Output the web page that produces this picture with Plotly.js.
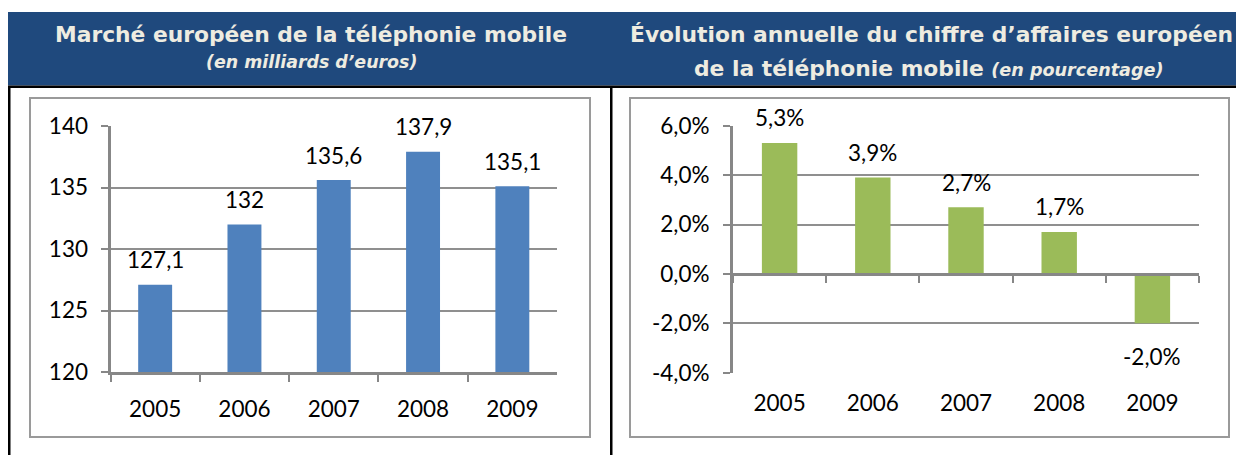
<!DOCTYPE html>
<html>
<head>
<meta charset="utf-8">
<script src="https://cdn.plot.ly/plotly-3.0.1.min.js"></script>
<style>html,body{margin:0;padding:0;background:#fff;}#chart{width:1236px;height:455px;}</style>
</head>
<body>
<div id="chart"></div>
<script>
// ---- data ----
const years = ['2005', '2006', '2007', '2008', '2009'];
const marketValues = [127.1, 132, 135.6, 137.9, 135.1];          // milliards d'euros
const growthValues = [5.3, 3.9, 2.7, 1.7, -2.0];                 // %
const leftTickVals = [120, 125, 130, 135, 140];
const rightTickVals = [-4, -2, 0, 2, 4, 6];
const rightTickText = ['-4,0%', '-2,0%', '0,0%', '2,0%', '4,0%', '6,0%'];
const leftTitle = 'Marché européen de la téléphonie mobile';
const leftSubtitle = '(en milliards d’euros)';
const rightTitle1 = 'Évolution annuelle du chiffre d’affaires européen';
const rightTitle2 = 'de la téléphonie mobile';
const rightSubtitle = '(en pourcentage)';

// ---- helpers ----
const W = 1236, H = 455;
const px = x => x / W;
const py = y => 1 - y / H;
const fmtNum = v => String(v).replace('.', ',');
const fmtPct = v => v.toFixed(1).replace('.', ',') + '%';

const gray = '#878787';
const gridGray = '#8f8f8f';
const tickFont = {family: 'Lato, sans-serif', size: 22.5, color: '#000'};

const yLeftDom = [py(372), py(126)];
const yRightDom = [py(372.7), py(125.7)];
const rRange = [-4, 6];
const zeroPos = yRightDom[0] + (0 - rRange[0]) / (rRange[1] - rRange[0]) * (yRightDom[1] - yRightDom[0]);

const traces = [
  {type: 'bar', x: years, y: marketValues, xaxis: 'x', yaxis: 'y',
   marker: {color: '#4F81BD'}, hoverinfo: 'x+y'},
  {type: 'bar', x: years, y: growthValues, xaxis: 'x2', yaxis: 'y2',
   marker: {color: '#9BBB59'}, hoverinfo: 'x+y'},
  {type: 'scatter', mode: 'markers', x: years, y: growthValues, xaxis: 'x3', yaxis: 'y2',
   marker: {opacity: 0, size: 1}, hoverinfo: 'skip'}
];

const annotations = [];
years.forEach((yr, i) => {
  // category index i = position of years[i] on the category axis
  annotations.push({xref: 'x', yref: 'y', x: i, y: marketValues[i], text: fmtNum(marketValues[i]),
    showarrow: false, xanchor: 'center', yanchor: 'middle', yshift: 25, font: tickFont});
  const g = growthValues[i];
  annotations.push({xref: 'x2', yref: 'y2', x: i, y: g, text: fmtPct(g),
    showarrow: false, xanchor: 'center', yanchor: 'middle', yshift: g >= 0 ? 25 : -33, font: tickFont});
});
const hdrFont = {family: 'DejaVu Sans, sans-serif', size: 21.8, color: '#EEECE1'};
const hdr = (x, y, text, size) => ({xref: 'paper', yref: 'paper', x: px(x), y: py(y), text: text,
  showarrow: false, xanchor: 'center', yanchor: 'middle', font: Object.assign({}, hdrFont, {size: size})});
annotations.push(
  hdr(311, 35, '<b>' + leftTitle + '</b>', 21.8),
  hdr(311, 62, '<b><i>' + leftSubtitle + '</i></b>', 17.4),
  hdr(931, 35, '<b>' + rightTitle1 + '</b>', 21.8),
  hdr(929, 68, '<b>' + rightTitle2 + ' <span style="font-size:17.6px"><i>' + rightSubtitle + '</i></span></b>', 21.8)
);

const shapes = [
  {type: 'rect', xref: 'paper', yref: 'paper', x0: px(8), x1: px(1236), y0: py(85.5), y1: py(12), fillcolor: '#1F497D', line: {width: 0}, layer: 'below'},
  {type: 'rect', xref: 'paper', yref: 'paper', x0: px(8), x1: px(1236), y0: py(88), y1: py(85.5), fillcolor: '#000', line: {width: 0}},
  {type: 'rect', xref: 'paper', yref: 'paper', x0: px(8), x1: px(10.5), y0: py(455), y1: py(86), fillcolor: '#000', line: {width: 0}},
  {type: 'rect', xref: 'paper', yref: 'paper', x0: px(610), x1: px(612.5), y0: py(455), y1: py(86), fillcolor: '#000', line: {width: 0}},
  {type: 'rect', xref: 'paper', yref: 'paper', x0: px(30), x1: px(590), y0: py(437), y1: py(98), line: {color: '#9a9a9a', width: 2}},
  {type: 'rect', xref: 'paper', yref: 'paper', x0: px(630), x1: px(1229), y0: py(437), y1: py(98), line: {color: '#9a9a9a', width: 2}}
];

const layout = {
  width: W, height: H,
  margin: {l: 0, r: 0, t: 0, b: 0},
  paper_bgcolor: '#fff', plot_bgcolor: 'rgba(0,0,0,0)',
  showlegend: false,
  bargap: 0.62,
  xaxis: {domain: [px(110.5), px(557)], anchor: 'y', type: 'category',
    showline: true, linecolor: gray, linewidth: 3,
    ticks: 'outside', tickson: 'boundaries', ticklen: 7, tickwidth: 2, tickcolor: gray,
    showgrid: false, tickfont: tickFont, ticklabelstandoff: 15, fixedrange: true},
  yaxis: {domain: yLeftDom, anchor: 'x', range: [120, 140], tickvals: leftTickVals,
    showgrid: true, gridcolor: gridGray, gridwidth: 2, zeroline: false,
    showline: true, linecolor: gray, linewidth: 3,
    ticks: 'outside', ticklen: 7, tickwidth: 2, tickcolor: gray,
    tickfont: tickFont, ticklabelstandoff: 8, fixedrange: true},
  xaxis2: {domain: [px(733), px(1199)], anchor: 'y2', type: 'category',
    showline: false, ticks: '', showgrid: false, tickfont: tickFont, ticklabelstandoff: 15, fixedrange: true},
  xaxis3: {overlaying: 'x2', matches: 'x2', anchor: 'free', position: zeroPos, type: 'category',
    showline: true, linecolor: gray, linewidth: 3,
    ticks: 'outside', tickson: 'boundaries', ticklen: 7, tickwidth: 2, tickcolor: gray,
    showticklabels: false, showgrid: false, fixedrange: true},
  yaxis2: {domain: yRightDom, anchor: 'x2', range: rRange, tickvals: rightTickVals, ticktext: rightTickText,
    showgrid: true, gridcolor: gridGray, gridwidth: 2, zeroline: false,
    showline: true, linecolor: gray, linewidth: 3,
    ticks: 'outside', ticklen: 7, tickwidth: 2, tickcolor: gray,
    tickfont: tickFont, ticklabelstandoff: 9, fixedrange: true},
  annotations: annotations,
  shapes: shapes
};

Plotly.newPlot('chart', traces, layout, {displayModeBar: false, staticPlot: true});
</script>
</body>
</html>
